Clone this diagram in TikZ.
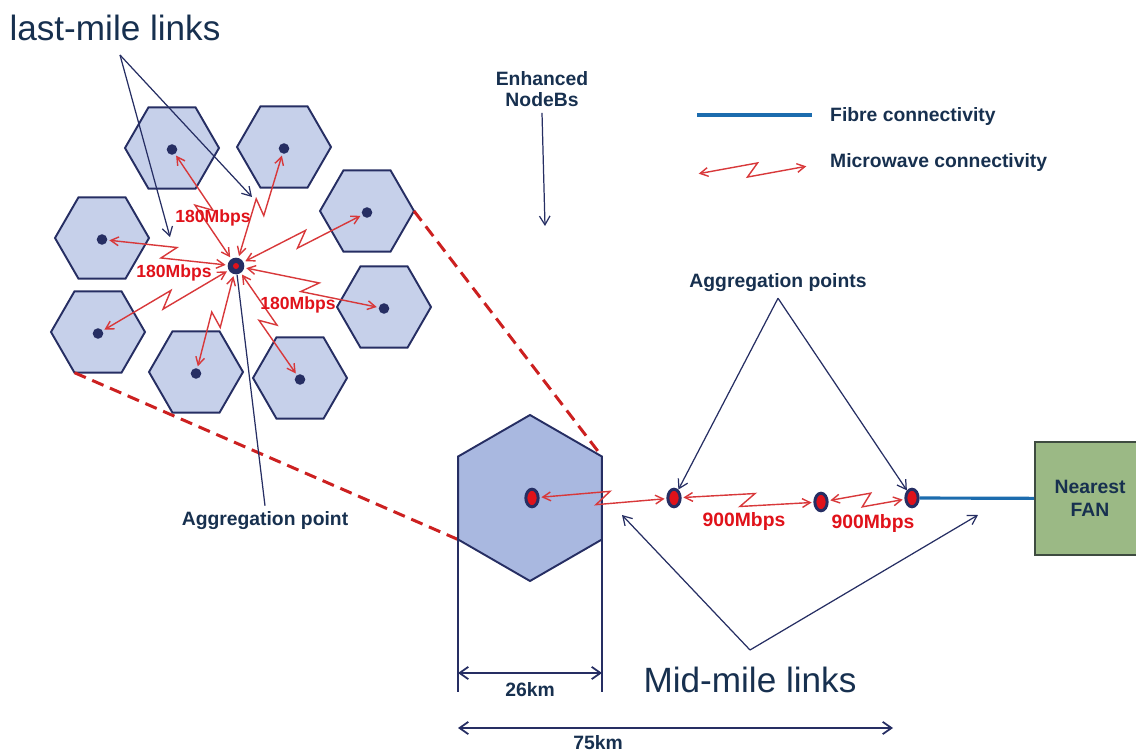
\documentclass[tikz,border=0pt]{standalone}
\usepackage{fontspec}
\newfontfamily\lsans{Liberation Sans}
\usetikzlibrary{calc,arrows.meta,shapes.geometric}

\definecolor{navy}{HTML}{262E63}
\definecolor{textnavy}{HTML}{17304F}
\definecolor{cellfill}{HTML}{C6D0EA}
\definecolor{bigfill}{HTML}{A9B8E0}
\definecolor{mwred}{HTML}{D8383A}
\definecolor{ratered}{HTML}{E0121A}
\definecolor{dashred}{HTML}{CC2020}
\definecolor{fibreblue}{HTML}{1C6CAE}
\definecolor{fangreen}{HTML}{9BB985}
\definecolor{fanedge}{HTML}{3E4B40}

\tikzset{
  cellhex/.style={draw=navy, line width=1.1pt, fill=cellfill},
  bighex/.style={draw=navy, line width=1.1pt, fill=bigfill},
  enb/.style={circle, fill=navy, inner sep=0pt, minimum size=6pt},
  aggpt/.style={circle, fill=navy, inner sep=0pt, minimum size=9.5pt,
    path picture={\fill[ratered] (path picture bounding box.center) circle (1.7pt);}},
  hub/.style={ellipse, draw=navy, line width=1.7pt, fill=ratered, inner sep=0pt,
    minimum width=7pt, minimum height=10pt},
  mw/.style={draw=mwred, line width=0.8pt,
    {Straight Barb[length=4.5pt,width=5pt]}-{Straight Barb[length=4.5pt,width=5pt]},
    shorten <=1pt, shorten >=1pt,
    to path={-- ($(\tikztostart)!0.55!(\tikztotarget)!3.8pt!90:(\tikztotarget)$)
      -- ($(\tikztostart)!0.45!(\tikztotarget)!3.8pt!-90:(\tikztotarget)$)
      -- (\tikztotarget) \tikztonodes}},
  pointer/.style={draw=navy, line width=0.7pt, -{Straight Barb[length=5pt,width=6pt]}},
  dimline/.style={draw=navy, line width=1pt,
    {Straight Barb[length=5pt,width=7pt]}-{Straight Barb[length=5pt,width=7pt]}},
  fibre/.style={draw=fibreblue, line width=1.8pt},
  zoomline/.style={draw=dashred, line width=1.7pt, dash pattern=on 7pt off 4pt},
  note/.style={font=\lsans\bfseries\fontsize{11}{12}\selectfont, text=textnavy, align=center},
  rate/.style={font=\lsans\bfseries\fontsize{10}{12}\selectfont, text=ratered},
  bigtext/.style={font=\lsans\fontsize{20}{24}\selectfont, text=textnavy},
  fanbox/.style={draw=fanedge, line width=1.1pt, fill=fangreen, minimum width=2.2cm,
    minimum height=2.26cm, align=center, font=\lsans\bfseries\fontsize{11}{13}\selectfont,
    text=textnavy},
}

\begin{document}
\begin{tikzpicture}[x=0.02cm,y=-0.02cm]
  \useasboundingbox (0,0) rectangle (1136,753);
  \clip (0,0) rectangle (1136,753);

  % cluster of cells round one aggregation point
  \foreach \n/\x/\y in {1/172/148, 2/284/147, 3/367/211, 4/102/238,
                        5/384/307, 6/98/332, 7/196/372, 8/300/378} {
    \draw[cellhex] (\x,\y) +(0:47) -- +(60:47) -- +(120:47) -- +(180:47)
      -- +(240:47) -- +(300:47) -- cycle;
    \node[enb] (e\n) at (\x,\y+1.5) {};
  }
  \node[aggpt] (agg) at (236,266) {};
  \foreach \n in {1,...,8} \draw[mw] (agg) to (e\n);

  \node[rate] (r1) at (213,218) {180Mbps};
  \node[rate] (r2) at (174,273) {180Mbps};
  \node[rate] (r3) at (298,305) {180Mbps};

  % zoom lines to the big cell
  \coordinate (h3r) at (414,211);
  \coordinate (h6bl) at (74.5,372.7);
  \coordinate (bhne) at (602,456.5);
  \coordinate (bhsw) at (458,539.5);
  \coordinate (bhse) at (602,539.5);
  \draw[zoomline] (h3r) -- (bhne);
  \draw[zoomline] (h6bl) -- (bhsw);

  % big cell and mid-mile chain
  \draw[bighex] (530,498) +(-90:83) -- +(-30:83) -- +(30:83) -- +(90:83)
    -- +(150:83) -- +(210:83) -- cycle;
  \node[hub] (bh) at (532,498) {};
  \node[hub] (md1) at (674,498) {};
  \node[hub] (md2) at (821,502) {};
  \node[hub] (md3) at (912,498) {};
  \node[fanbox] (fan) at (1090,498.5) {Nearest\\FAN};

  \draw[mw] (bh) to (md1);
  \draw[mw] (md1) to (md2);
  \draw[mw] (md2) to (md3);
  \draw[fibre] (md3) -- (fan);
  \node[rate, font=\lsans\bfseries\fontsize{11}{13}\selectfont] (r4) at (744,522) {900Mbps};
  \node[rate, font=\lsans\bfseries\fontsize{11}{13}\selectfont] (r5) at (873,524) {900Mbps};

  % texts and pointers
  \node[bigtext] (lastmile) at (115,28) {last-mile links};
  \coordinate (lmfork) at (120,55);
  \coordinate (lm1) at (170,237);
  \coordinate (lm2) at (252,197);
  \draw[pointer] (lmfork) -- (lm1);
  \draw[pointer] (lmfork) -- (lm2);

  \node[note] (aglabel) at (265,521) {Aggregation point};
  \draw[navy, line width=0.7pt] (aglabel.north) -- (agg);

  \node[note] (enbtxt) at (542,89) {Enhanced\\NodeBs};
  \coordinate (enbtip) at (545,226);
  \draw[pointer] (enbtxt.south) -- (enbtip);

  \node[note] (aptxt) at (778,283) {Aggregation points};
  \draw[pointer] (aptxt.south) -- (md1);
  \draw[pointer] (aptxt.south) -- (md3);

  \node[bigtext] (mmtxt) at (750,680) {Mid-mile links};
  \coordinate (mmfork) at (750,650);
  \coordinate (mm1) at (622,515);
  \coordinate (mm2) at (978,515);
  \draw[pointer] (mmfork) -- (mm1);
  \draw[pointer] (mmfork) -- (mm2);

  % legend
  \coordinate (fibA) at (697,115);
  \coordinate (fibB) at (812,115);
  \draw[fibre] (fibA) -- (fibB);
  \node[note, anchor=west] (fibtxt) at (824,117) {Fibre connectivity};
  \coordinate (mwA) at (697,174);
  \coordinate (mwB) at (808,166);
  \draw[mw] (mwA) to (mwB);
  \node[note, anchor=west] (mwtxt) at (824,163) {Microwave connectivity};

  % dimensions
  \coordinate (dimL) at (458,692);
  \coordinate (dimR) at (602,692);
  \draw[navy, line width=0.7pt] (bhsw) -- (dimL);
  \draw[navy, line width=0.7pt] (bhse) -- (dimR);
  \coordinate (d26L) at (458,673);
  \coordinate (d26R) at (602,673);
  \draw[dimline] (d26L) -- (d26R);
  \node[note] (d26) at (530,690) {26km};
  \coordinate (d75L) at (458,728);
  \coordinate (d75R) at (893,728);
  \draw[dimline] (d75L) -- (d75R);
  \node[note, inner sep=1pt] (d75) at (598,743) {75km};
\end{tikzpicture}
\end{document}
